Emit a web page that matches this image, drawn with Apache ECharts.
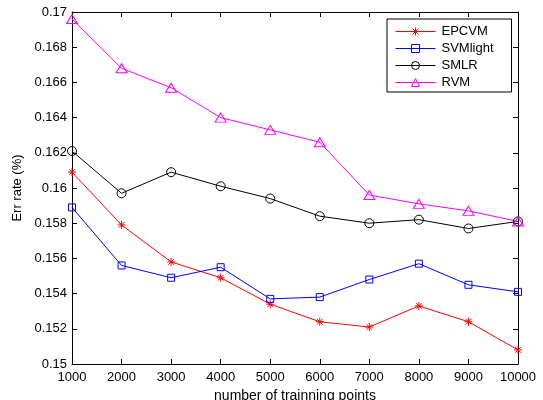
<!DOCTYPE html>
<html>
<head>
<meta charset="utf-8">
<script src="https://cdn.jsdelivr.net/npm/echarts@6/dist/echarts.min.js"></script>
<style>
  html, body { margin: 0; padding: 0; background: #fff; }
  #chart { width: 543px; height: 400px; }
</style>
</head>
<body>
<div id="chart"></div>
<script>
// training set sizes
const points = [1000, 2000, 3000, 4000, 5000, 6000, 7000, 8000, 9000, 10000]
// error rates
const epcvm = [0.1609, 0.1579, 0.1558, 0.1549, 0.1534, 0.1524, 0.1521, 0.1533, 0.1524, 0.1508]
const svmlight = [0.1589, 0.1556, 0.1549, 0.1555, 0.1537, 0.1538, 0.1548, 0.1557, 0.1545, 0.1541]
const smlr = [0.1621, 0.1597, 0.1609, 0.1601, 0.1594, 0.1584, 0.1580, 0.1582, 0.1577, 0.1581]
const rvm = [0.1696, 0.1668, 0.1657, 0.1640, 0.1633, 0.1626, 0.1596, 0.1591, 0.1587, 0.1581]

const font = 'Liberation Sans, Arial, sans-serif'
const asterisk = 'path://M5,0L5,10M0,5L10,5M1.5,1.5L8.5,8.5M8.5,1.5L1.5,8.5'

function pairs(vals) {
  return points.map((p, i) => [p, vals[i]])
}

function makeSeries(name, vals, color, symbol, size) {
  return {
    name: name,
    type: 'line',
    data: pairs(vals),
    symbol: symbol,
    symbolSize: size,
    showAllSymbol: true,
    lineStyle: {color: color, width: 1},
    itemStyle: {color: 'none', borderColor: color, borderWidth: 1},
    emphasis: {disabled: true},
    animation: false,
    z: 3
  }
}

const chart = echarts.init(document.getElementById('chart'), null, {renderer: 'canvas'})

const xBase = {
  type: 'value', min: 1000, max: 10000, interval: 1000,
  splitLine: {show: false},
  axisLine: {lineStyle: {color: '#000', width: 1}},
  axisTick: {inside: true, length: 5, lineStyle: {color: '#000'}}
}
const yBase = {
  type: 'value', min: 0.15, max: 0.17, interval: 0.002,
  splitLine: {show: false},
  axisLine: {show: true, lineStyle: {color: '#000', width: 1}},
  axisTick: {show: true, inside: true, length: 5, lineStyle: {color: '#000'}}
}

chart.setOption({
  backgroundColor: '#fff',
  textStyle: {fontFamily: font},
  grid: {left: 72, right: 25, top: 12, bottom: 36, outerBoundsMode: 'none'},
  legend: {
    orient: 'vertical',
    left: 387,
    top: 19,
    padding: [6, 18, 3, 8],
    itemWidth: 40,
    itemHeight: 10,
    itemGap: 4,
    borderColor: '#000',
    borderWidth: 1,
    backgroundColor: '#fff',
    itemStyle: {borderWidth: 1},
    lineStyle: {width: 1},
    textStyle: {fontFamily: font, fontSize: 13, color: '#000', padding: [0, 0, 0, 1]},
    data: ['EPCVM', 'SVMlight', 'SMLR', 'RVM']
  },
  xAxis: [
    Object.assign({}, xBase, {
      position: 'bottom',
      name: 'number of trainning points',
      nameLocation: 'middle',
      nameGap: 25,
      nameTextStyle: {fontFamily: font, fontSize: 14, color: '#000'},
      axisLabel: {fontFamily: font, fontSize: 13, color: '#000', margin: 7, formatter: v => String(v)}
    }),
    Object.assign({}, xBase, {position: 'top', axisLabel: {show: false}})
  ],
  yAxis: [
    Object.assign({}, yBase, {
      position: 'left',
      name: 'Err rate (%)',
      nameLocation: 'middle',
      nameGap: 48,
      nameTextStyle: {fontFamily: font, fontSize: 13, color: '#000'},
      axisLabel: {fontFamily: font, fontSize: 13, color: '#000', margin: 5}
    }),
    Object.assign({}, yBase, {position: 'right', axisLabel: {show: false}})
  ],
  series: [
    makeSeries('EPCVM', epcvm, '#ff0000', asterisk, 8),
    makeSeries('SVMlight', svmlight, '#0000ff', 'rect', 7),
    makeSeries('SMLR', smlr, '#000000', 'circle', 9),
    makeSeries('RVM', rvm, '#ff00ff', 'triangle', [11, 9])
  ]
})
</script>
</body>
</html>
